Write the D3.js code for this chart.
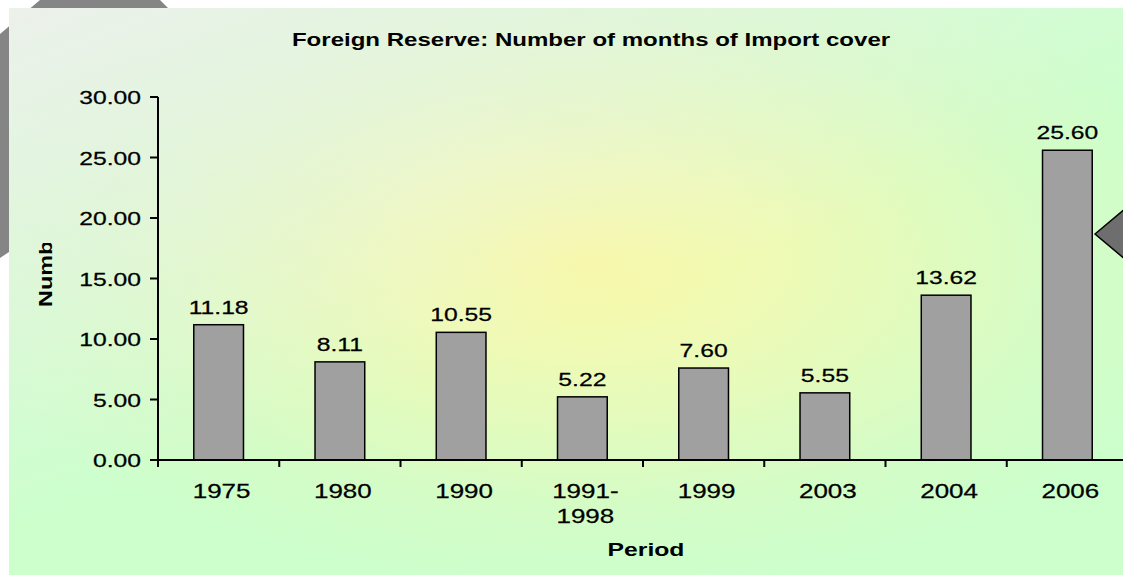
<!DOCTYPE html>
<html>
<head>
<meta charset="utf-8">
<script src="https://d3js.org/d3.v7.min.js"></script>
<style>
  body { margin: 0; background: #ffffff; }
  svg { display: block; }
</style>
</head>
<body>
<script>
let periods = ['1975', '1980', '1990', '1991-\n1998', '1999', '2003', '2004', '2006'];
let months = [11.18, 8.11, 10.55, 5.22, 7.60, 5.55, 13.62, 25.60];
let yTicks = [0, 5, 10, 15, 20, 25, 30];

let width = 1123;
let height = 575;
let stretch = 1.3;
let margin = { top: 97, right: -5, bottom: 115, left: 158 };

let svg = d3.select('body').append('svg')
  .attr('width', width)
  .attr('height', height)
  .style('font-family', '"Liberation Sans", Arial, sans-serif');

let defs = svg.append('defs');

let bg = defs.append('radialGradient')
  .attr('id', 'bg')
  .attr('cx', '52%').attr('cy', '45%')
  .attr('r', '58%');
bg.append('stop').attr('offset', '0').attr('stop-color', '#f8f8a6');
bg.append('stop').attr('offset', '0.3').attr('stop-color', '#eefab6');
bg.append('stop').attr('offset', '0.75').attr('stop-color', '#d4fcc6');
bg.append('stop').attr('offset', '1').attr('stop-color', '#ccffcc');

let fade = defs.append('linearGradient')
  .attr('id', 'fade')
  .attr('x1', '0').attr('y1', '0')
  .attr('x2', '0.45').attr('y2', '0.6');
fade.append('stop').attr('offset', '0').attr('stop-color', '#eef0ec').attr('stop-opacity', 0.95);
fade.append('stop').attr('offset', '1').attr('stop-color', '#eef0ec').attr('stop-opacity', 0);

defs.append('clipPath').attr('id', 'ylab')
  .append('rect').attr('x', 0).attr('y', 243).attr('width', 120).attr('height', 200);

// grey decoration behind the chart box (top-left) and pointer on the right
svg.append('polygon')
  .attr('points', '0,34 40,0 160,0 172,12 12,250 0,258')
  .attr('fill', '#858585');

svg.append('rect')
  .attr('x', 9).attr('y', 8)
  .attr('width', width - 9).attr('height', height - 8)
  .attr('fill', 'url(#bg)');
svg.append('rect')
  .attr('x', 9).attr('y', 8)
  .attr('width', width - 9).attr('height', height - 8)
  .attr('fill', 'url(#fade)');

svg.append('polygon')
  .attr('points', '1095,234 1126,208 1126,260')
  .attr('fill', '#6e6e6e')
  .attr('stroke', '#000')
  .attr('stroke-width', 1.5);

// helper: text drawn a bit wider, like the original
function wideText(g, x, y, txt) {
  return g.append('text')
    .attr('transform', `translate(${x},${y}) scale(${stretch},1)`)
    .text(txt);
}

let x = d3.scaleBand()
  .domain(periods)
  .range([margin.left, width - margin.right])
  .paddingInner(0.59)
  .paddingOuter(0.295);

let xEdge = d3.scaleLinear()
  .domain([0, periods.length])
  .range([margin.left, width - margin.right]);

let y = d3.scaleLinear()
  .domain([0, 30])
  .range([height - margin.bottom, margin.top]);

// bars
svg.append('g')
  .selectAll('rect')
  .data(periods)
  .enter()
  .append('rect')
  .attr('x', d => x(d))
  .attr('y', (d, i) => y(months[i]))
  .attr('width', x.bandwidth())
  .attr('height', (d, i) => y(0) - y(months[i]))
  .attr('fill', '#a0a0a0')
  .attr('stroke', '#000')
  .attr('stroke-width', 1.5);

// value labels
let vl = svg.append('g').attr('font-size', 19).attr('fill', '#000')
  .attr('stroke', '#000').attr('stroke-width', 0.25).attr('text-anchor', 'middle');
periods.forEach((p, i) => {
  wideText(vl, x(p) + x.bandwidth() / 2, y(months[i]) - 11, d3.format('.2f')(months[i]));
});

// y axis
let yAxis = svg.append('g');
yAxis.append('line')
  .attr('x1', margin.left).attr('x2', margin.left)
  .attr('y1', y(30)).attr('y2', y(0) + 6)
  .attr('stroke', '#000').attr('stroke-width', 2);
yAxis.selectAll('line.tick')
  .data(yTicks)
  .enter()
  .append('line')
  .attr('class', 'tick')
  .attr('x1', margin.left - 8).attr('x2', margin.left)
  .attr('y1', d => y(d)).attr('y2', d => y(d))
  .attr('stroke', '#000').attr('stroke-width', 2);
let yl = yAxis.append('g').attr('font-size', 19).attr('text-anchor', 'end').attr('fill', '#000')
  .attr('stroke', '#000').attr('stroke-width', 0.25);
yTicks.forEach(t => {
  wideText(yl, margin.left - 17, y(t) + 7, d3.format('.2f')(t));
});

// x axis
let xAxis = svg.append('g');
xAxis.append('line')
  .attr('x1', margin.left).attr('x2', width)
  .attr('y1', y(0)).attr('y2', y(0))
  .attr('stroke', '#000').attr('stroke-width', 2);
xAxis.selectAll('line.tick')
  .data(d3.range(periods.length + 1))
  .enter()
  .append('line')
  .attr('x1', d => xEdge(d)).attr('x2', d => xEdge(d))
  .attr('y1', y(0)).attr('y2', y(0) + 7)
  .attr('stroke', '#000').attr('stroke-width', 2);
let xl = xAxis.append('g').attr('font-size', 20).attr('text-anchor', 'middle').attr('fill', '#000')
  .attr('stroke', '#000').attr('stroke-width', 0.25);
periods.forEach(p => {
  let lines = p.split('\n');
  lines.forEach((ln, k) => {
    wideText(xl, x(p) + x.bandwidth() / 2 + 3, y(0) + 38 + k * 25, ln);
  });
});

// titles
let tt = svg.append('g').attr('font-weight', 'bold').attr('fill', '#000').attr('text-anchor', 'middle');
wideText(tt, 591, 46, 'Foreign Reserve: Number of months of Import cover').attr('font-size', 18.5);
wideText(tt, 646, 556, 'Period').attr('font-size', 19);

svg.append('g')
  .attr('clip-path', 'url(#ylab)')
  .append('text')
  .attr('transform', `translate(52,307) rotate(-90) scale(${stretch},1)`)
  .attr('font-size', 18)
  .attr('font-weight', 'bold')
  .text('Number of months');
</script>
</body>
</html>
